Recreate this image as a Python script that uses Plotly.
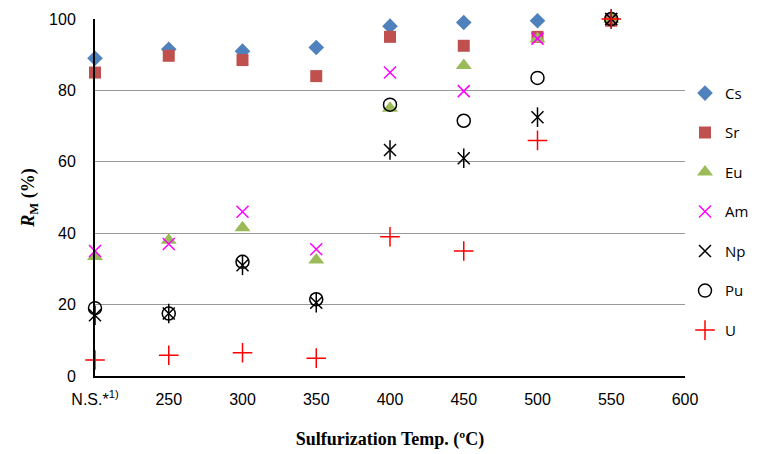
import plotly.graph_objects as go

temps = [200, 250, 300, 350, 400, 450, 500, 550]
tick_vals = [200, 250, 300, 350, 400, 450, 500, 550, 600]
tick_text = ["N.S.*<sup>1)</sup>", "250", "300", "350", "400", "450", "500", "550", "600"]

cs = [89, 91.5, 91, 92, 98, 99, 99.5, 100]
sr = [85, 89.7, 88.5, 84, 95, 92.5, 95, 99.5]
eu = [33.5, 38, 41.5, 32.5, 75, 87, 94.5, 100]
am = [35, 37, 46, 35.5, 85, 79.8, 94.5, 100]
np_ = [17, 17.5, 31, 20.5, 63.3, 61, 72.5, 100]
pu = [19, 17.5, 32, 21.5, 76, 71.5, 83.5, 100]
u = [4.5, 5.8, 6.5, 5, 39, 35, 66, 100]

fig = go.Figure()

def add(name, y, symbol, color, size, lw=0, group=None, showlegend=True):
    fig.add_trace(go.Scatter(
        x=temps, y=y, mode="markers", name=name, cliponaxis=False,
        legendgroup=group or name, showlegend=showlegend,
        marker=dict(symbol=symbol, color=color, size=size,
                    line=dict(color=color, width=lw)),
    ))

add("Cs", cs, "diamond", "#4F81BD", 12)
add("Sr", sr, "square", "#C0504D", 12)
add("Eu", eu, "triangle-up", "#9BBB59", 14)
add("Am", am, "x-thin-open", "#FF00FF", 12, 1.5)
add("Np", np_, "x-thin-open", "#000000", 12, 1.5)
add("Np", np_, "line-ns-open", "#000000", 14, 1.5, group="Np", showlegend=False)
add("Pu", pu, "circle-open", "#000000", 13, 1.5)
add("U", u, "cross-thin-open", "#FF0000", 14, 1.5)

fig.update_layout(
    width=750, height=446,
    margin=dict(l=87, r=73, t=11, b=78, autoexpand=False),
    paper_bgcolor="white", plot_bgcolor="white",
    font=dict(family="Liberation Sans, Arial", size=16, color="black"),
    legend=dict(
        x=1.0, xanchor="left", y=0.838, yanchor="top",
        font=dict(family="Open Sans, Noto Sans", size=15, color="black"),
        tracegroupgap=17, itemwidth=30, bgcolor="rgba(0,0,0,0)",
    ),
    showlegend=True,
)
fig.update_xaxes(
    range=[200, 600], tickmode="array", tickvals=tick_vals, ticktext=tick_text,
    automargin=False,
    showgrid=False, zeroline=False, showline=True, linecolor="black", linewidth=2,
    ticks="", ticklabelstandoff=8,
    title=dict(text="Sulfurization Temp. (ºC)",
               font=dict(family="Liberation Serif, Times New Roman", size=18, weight="bold"),
               standoff=25),
)
fig.update_yaxes(
    range=[0, 100], tickvals=[0, 20, 40, 60, 80, 100], automargin=False,
    showgrid=True, gridcolor="#999999", gridwidth=1, zeroline=False,
    showline=True, linecolor="black", linewidth=2, ticks="", ticklabelstandoff=14,
    title=dict(text="<i>R</i><sub>M</sub> (%)",
               font=dict(family="Liberation Serif, Times New Roman", size=18, weight="bold"),
               standoff=10),
)

fig.write_html("out.html")
